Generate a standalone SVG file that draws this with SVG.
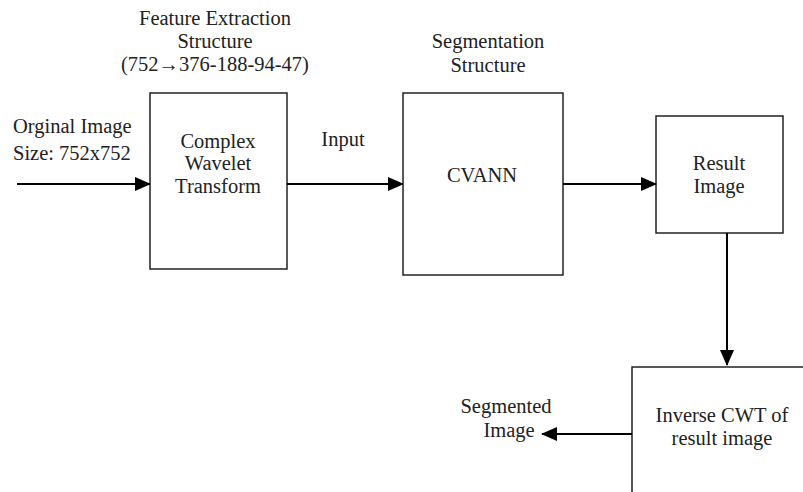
<svg xmlns="http://www.w3.org/2000/svg" width="803" height="492" viewBox="0 0 803 492">
<style>
  .box { fill: #fff; stroke: #222; stroke-width: 1.5; }
  .t { font-family: "Liberation Serif", "Times New Roman", serif; font-size: 20.5px; fill: #222; }
  .c { text-anchor: middle; }
  .line { stroke: #000; stroke-width: 2; fill: none; }
</style>
<defs>
  <marker id="ah" markerWidth="16" markerHeight="14" refX="15" refY="7" orient="auto" markerUnits="userSpaceOnUse">
    <path d="M0,0 L16,7 L0,14 Z" fill="#000"/>
  </marker>
</defs>
<rect width="803" height="492" fill="#fff"/>

<g id="labels">
  <text class="t c" x="215" y="25">Feature Extraction</text>
  <text class="t c" x="215" y="48">Structure</text>
  <text class="t c" x="215" y="71">(752→376-188-94-47)</text>
  <text class="t c" x="488" y="48">Segmentation</text>
  <text class="t c" x="488" y="72">Structure</text>
  <text class="t" x="13" y="133">Orginal Image</text>
  <text class="t" x="13" y="160">Size: 752x752</text>
  <text class="t c" x="343" y="146">Input</text>
  <text class="t c" x="506" y="413">Segmented</text>
  <text class="t c" x="509" y="437">Image</text>
</g>

<g id="cwt">
  <rect class="box" x="150" y="93" width="137" height="176"/>
  <text class="t c" x="218" y="148">Complex</text>
  <text class="t c" x="218" y="170">Wavelet</text>
  <text class="t c" x="218" y="193">Transform</text>
</g>

<g id="cvann">
  <rect class="box" x="403" y="93" width="160" height="182"/>
  <text class="t c" x="482" y="182">CVANN</text>
</g>

<g id="result">
  <rect class="box" x="656" y="116" width="127" height="117"/>
  <text class="t c" x="719" y="170">Result</text>
  <text class="t c" x="719" y="193">Image</text>
</g>

<g id="inverse">
  <rect class="box" x="632" y="367" width="200" height="160"/>
  <text class="t c" x="722" y="422">Inverse CWT of</text>
  <text class="t c" x="722" y="445">result image</text>
</g>

<g id="connectors">
  <line class="line" x1="17" y1="184" x2="150" y2="184" marker-end="url(#ah)"/>
  <line class="line" x1="287" y1="184" x2="403" y2="184" marker-end="url(#ah)"/>
  <line class="line" x1="563" y1="184" x2="656" y2="184" marker-end="url(#ah)"/>
  <line class="line" x1="727" y1="233" x2="727" y2="365" marker-end="url(#ah)"/>
  <line class="line" x1="632" y1="434" x2="542" y2="434" marker-end="url(#ah)"/>
</g>
</svg>
